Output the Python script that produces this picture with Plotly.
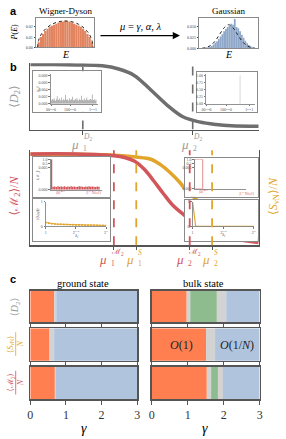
import plotly.graph_objects as go

W, H = 286, 439
SERIF = "Liberation Serif, DejaVu Serif, serif"
SANS = "Liberation Sans, Arial, sans-serif"

# ---------------- colours ----------------
C_RED = "#d2555a"
C_YEL = "#e2a52c"
C_GRAY = "#6e6e6e"
C_FRAME = "#8a8a8a"
PH_COL = {"erg": "#ff7f50", "cross": "#d3d3d3", "mid": "#8fbc8f", "loc": "#b0c4de"}

# ---------------- data ----------------
# panel a : Wigner-Dyson histogram
wd_E = [-24, -22, -20, -18, -16, -14, -12, -10, -8, -6, -4, -2, 0, 2, 4, 6, 8, 10, 12, 14, 16, 18, 20, 22, 24]
wd_P = [0.005, 0.010, 0.013, 0.016, 0.018, 0.020, 0.021, 0.022, 0.023, 0.024, 0.025, 0.025, 0.026,
        0.025, 0.025, 0.024, 0.023, 0.022, 0.021, 0.020, 0.018, 0.016, 0.013, 0.010, 0.005]
wd_curve_E = [-25, -24, -22, -20, -16, -12, -8, -4, 0, 4, 8, 12, 16, 20, 22, 24, 25]
wd_curve_P = [0, 0.0071, 0.0121, 0.0153, 0.0196, 0.0224, 0.0242, 0.0252, 0.0255,
              0.0252, 0.0242, 0.0224, 0.0196, 0.0153, 0.0121, 0.0071, 0]
# panel a : Gaussian histogram
ga_E = [-2.9, -2.7, -2.5, -2.3, -2.1, -1.9, -1.7, -1.5, -1.3, -1.1, -0.9, -0.7, -0.5, -0.3, -0.1,
        0.1, 0.3, 0.5, 0.7, 0.9, 1.1, 1.3, 1.5, 1.7, 1.9, 2.1, 2.3, 2.5, 2.7, 2.9]
ga_P = [0.001, 0.001, 0.002, 0.003, 0.004, 0.006, 0.009, 0.013, 0.017, 0.022, 0.028, 0.033, 0.040, 0.045, 0.050,
        0.052, 0.057, 0.055, 0.068, 0.050, 0.047, 0.040, 0.032, 0.025, 0.018, 0.012, 0.008, 0.005, 0.003, 0.001]
ga_curve_E = [-3, -2.5, -2, -1.5, -1, -0.5, 0, 0.5, 1, 1.5, 2, 2.5, 3]
ga_curve_P = [0.0006, 0.0024, 0.0074, 0.0177, 0.033, 0.048, 0.055, 0.048, 0.033, 0.0177, 0.0074, 0.0024, 0.0006]

# panel b : order parameters vs mu
mu_D2 = [0, 0.1, 0.2, 0.315, 0.387, 0.455, 0.528, 0.6, 0.668, 0.74, 0.813, 0.881, 1.0]
D2 = [1.0, 1.0, 0.995, 0.98, 0.93, 0.83, 0.60, 0.36, 0.18, 0.10, 0.06, 0.04, 0.03]
mu_M2 = [0, 0.2, 0.366, 0.413, 0.455, 0.498, 0.54, 0.583, 0.626, 0.677, 0.74, 0.8, 0.89, 1.0]
M2 = [0.99, 0.99, 0.97, 0.95, 0.91, 0.82, 0.69, 0.545, 0.41, 0.30, 0.15, 0.09, 0.04, 0.0]
mu_S = [0, 0.2, 0.37, 0.464, 0.528, 0.57, 0.613, 0.655, 0.677, 0.74, 0.826, 0.91, 1.0]
S = [0.985, 0.985, 0.975, 0.955, 0.93, 0.87, 0.78, 0.67, 0.60, 0.45, 0.25, 0.10, 0.03]
mu_D2_crit = [0.23, 0.711]
mu_M2_crit = [0.366, 0.698]
mu_S_crit = [0.464, 0.796]

# insets of panel b
ipr_ground = [0.0012, 0.0009, 0.0014, 0.0010, 0.0016, 0.0011, 0.0008, 0.0013, 0.0022, 0.0010,
              0.0012, 0.0015, 0.0009, 0.0011, 0.0018, 0.0010, 0.0013, 0.0009, 0.0012, 0.0025,
              0.0011, 0.0014, 0.0010, 0.0009, 0.0016, 0.0012, 0.0010, 0.0013, 0.0020, 0.0011,
              0.0009, 0.0012, 0.0014, 0.0010, 0.0017, 0.0011, 0.0009, 0.0013, 0.0012, 0.0010,
              0.0023, 0.0011, 0.0012, 0.0009, 0.0015, 0.0010, 0.0012, 0.0018, 0.0011, 0.0010,
              0.0013, 0.0009, 0.0014, 0.0012, 0.0027, 0.0010, 0.0011, 0.0013, 0.0009, 0.0012]
ipr_bulk_idx = [43]
ipr_bulk_val = [1.0]
m2_ground = [1.0, 0.10, 0.11, 0.09, 0.12, 0.10, 0.11, 0.10, 0.12, 0.09, 0.11, 0.10, 0.12, 0.10, 0.11,
             0.09, 0.10, 0.12, 0.11, 0.10, 0.09, 0.11, 0.10, 0.12, 0.10, 0.11, 0.10, 0.09, 0.11, 0.10]
m2_bulk = [1.0]
s_ground = [0.16, 0.13, 0.11, 0.10, 0.09, 0.085, 0.08, 0.075, 0.07, 0.066, 0.062, 0.058, 0.055,
            0.052, 0.05, 0.048, 0.046, 0.044, 0.042, 0.041, 0.04]
s_bulk = [1.0, 0, 0, 0, 0, 0, 0, 0, 0, 0, 0, 0, 0, 0, 0, 0, 0, 0, 0, 0, 0]

# panel c : phase diagrams (edges in gamma, phases between edges)
gs_D2_edges = [0, 0.67, 0.73, 3.0]
gs_S_edges = [0, 0.54, 0.67, 3.0]
gs_M2_edges = [0, 0.69, 0.72, 3.0]
gs_phases = ["erg", "cross", "loc"]
bs_D2_edges = [0, 0.97, 1.07, 1.81, 2.07, 3.0]
bs_D2_phases = ["erg", "cross", "mid", "cross", "loc"]
bs_S_edges = [0, 1.51, 1.76, 3.0]
bs_S_phases = ["erg", "cross", "loc"]
bs_M2_edges = [0, 1.53, 1.65, 1.84, 1.98, 3.0]
bs_M2_phases = ["erg", "cross", "mid", "cross", "loc"]
gamma_ticks = [0, 1, 2, 3]

# ---------------- helpers ----------------
layout = {}
traces = []
ann = []
shapes = []
cnt = [0]


def xd(a, b):
    return [a / W, b / W]


def yd(top, bot):
    return [1 - bot / H, 1 - top / H]


def base_ax(**kw):
    d = dict(showgrid=False, zeroline=False, showticklabels=False, ticks="", showline=False,
             fixedrange=True)
    d.update(kw)
    return d


def add_axes(xpx, ypx, xo, yo):
    cnt[0] += 1
    i = cnt[0]
    s = "" if i == 1 else str(i)
    layout["xaxis" + s] = dict(domain=xd(*xpx), anchor="y" + s, **base_ax(**xo))
    layout["yaxis" + s] = dict(domain=yd(*ypx), anchor="x" + s, **base_ax(**yo))
    traces.append(go.Scatter(x=[None], y=[None], xaxis="x" + s, yaxis="y" + s, showlegend=False))
    return "x" + s, "y" + s


def text(xp, yp, s, size=10, color="black", family=SERIF, angle=0, xanchor="center", yanchor="middle"):
    ann.append(dict(x=xp / W, y=1 - yp / H, xref="paper", yref="paper", text=s, showarrow=False,
                    font=dict(size=size, color=color, family=family), textangle=angle,
                    xanchor=xanchor, yanchor=yanchor))


def mu_label(xp, yp, sub, sup, color):
    text(xp - 2, yp + 2, "<i>μ</i>", size=13, color=color, xanchor="right")
    text(xp - 2, yp + 6, sub, size=7.5, color=color, xanchor="left")
    text(xp - 2, yp - 5, sup, size=7.5, color=color, xanchor="left")


frame = dict(showline=True, mirror=True, linecolor=C_FRAME, linewidth=1)
tf = dict(size=4, color="#555", family=SERIF)

# ---------------- panel b main axes ----------------
xb1, yb1 = add_axes((26, 261), (61, 128),
                    dict(range=[0, 1], showline=True, linecolor="#555", linewidth=1.5, ticks="outside",
                         tickvals=mu_D2_crit, ticklen=4, tickcolor="#555"),
                    dict(range=[-0.02, 1.02], showline=True, linecolor="#555", linewidth=1.5))
for m in mu_D2_crit:
    traces.append(go.Scatter(x=[m, m], y=[-0.02, 1.02], xaxis=xb1, yaxis=yb1, mode="lines",
                             line=dict(color=C_GRAY, width=1.6, dash="dash"), showlegend=False))
traces.append(go.Scatter(x=mu_D2, y=D2, xaxis=xb1, yaxis=yb1, mode="lines",
                         line=dict(color=C_GRAY, width=3.5, shape="spline"), showlegend=False))

xb2, yb2 = add_axes((26, 261), (149, 245),
                    dict(range=[0, 1], showline=True, linecolor="#555", linewidth=1.5, ticks="outside",
                         tickvals=mu_M2_crit + mu_S_crit, ticklen=3, tickcolor="#555"),
                    dict(range=[-0.03, 1.03], showline=True, mirror=True, linecolor="#555", linewidth=1.5))
traces.append(go.Scatter(x=mu_S, y=S, xaxis=xb2, yaxis=yb2, mode="lines",
                         line=dict(color=C_YEL, width=3.5, shape="spline"), showlegend=False))
traces.append(go.Scatter(x=mu_M2, y=M2, xaxis=xb2, yaxis=yb2, mode="lines",
                         line=dict(color=C_RED, width=3.5, shape="spline"), showlegend=False))
for m, c in zip(mu_M2_crit + mu_S_crit, [C_RED, C_RED, C_YEL, C_YEL]):
    shapes.append(dict(type="line", xref=xb2, yref=yb2 + " domain", x0=m, x1=m, y0=0, y1=1,
                       line=dict(color=c, width=1.8, dash="dash"), layer="above"))

# ---------------- inset frames ----------------
for px, py in [((29, 99), (69, 110)), ((198, 259), (70, 110)),
               ((29, 108), (156, 196)), ((29, 108), (198, 241)),
               ((185, 260), (157, 196)), ((185, 260), (199, 241))]:
    add_axes(px, py, dict(range=[0, 1], **frame), dict(range=[0, 1], **frame))

inner_x = dict(showline=True, linecolor="#777", linewidth=0.8, ticks="outside", ticklen=1.5,
               tickcolor="#777", showticklabels=True, tickfont=tf)
inner_y = dict(showline=True, linecolor="#777", linewidth=0.8, ticks="outside", ticklen=1.5,
               tickcolor="#777", showticklabels=True, tickfont=tf)
inner_x_nolab = {k: v for k, v in inner_x.items() if k not in ("showticklabels", "ticks")}

# top-left inset : ground state IPR
xi, yi = add_axes((47, 96), (72, 102),
                  dict(range=[-0.5, 62], tickvals=[0, 25, 55], ticktext=["00⋯0", "100⋯0", "1⋯1"], **inner_x),
                  dict(range=[0, 0.0085], tickvals=[0, 0.002, 0.004, 0.006, 0.008],
                       ticktext=["0.000", "0.002", "0.004", "0.006", "0.008"], **inner_y))
traces.append(go.Bar(x=list(range(len(ipr_ground))), y=ipr_ground, xaxis=xi, yaxis=yi,
                     marker=dict(color="#8c8c8c", line=dict(width=0)), width=0.8, showlegend=False))
text(34, 87, "|<i>c<sub>n</sub></i>|²", size=4, color="#555", angle=-90)

# top-right inset : bulk state
xi, yi = add_axes((207, 257), (72, 102),
                  dict(range=[-0.5, 62], tickvals=[0, 25, 55], ticktext=["00⋯0", "100⋯0", "1⋯1"], **inner_x),
                  dict(range=[0, 1.05], tickvals=[0, 0.25, 0.5, 0.75, 1.0],
                       ticktext=["0.00", "0.25", "0.50", "0.75", "1.00"], **inner_y))
traces.append(go.Bar(x=ipr_bulk_idx, y=ipr_bulk_val, xaxis=xi, yaxis=yi,
                     marker=dict(color="#999", line=dict(width=0)), width=0.5, showlegend=False))

# lower-left upper inset : M2 ground
xi, yi = add_axes((47, 100), (158, 189),
                  dict(range=[-0.5, 31], **inner_x_nolab),
                  dict(range=[0, 1.0], tickvals=[0, 0.72, 0.86, 1.0],
                       ticktext=["0.000", "0.005", "0.5", "1.0"], **inner_y))
traces.append(go.Bar(x=list(range(len(m2_ground))), y=m2_ground, xaxis=xi, yaxis=yi,
                     marker=dict(color=C_RED, line=dict(width=0)), width=0.9, showlegend=False))
text(50, 192, "|0⟩<sup>⊗N</sup>", size=4, color=C_RED, xanchor="left")
text(101, 192, "|1<sup>N</sup> Néel⟩", size=4, color=C_RED, xanchor="right")
text(34, 174, "⟨ℳ<sub>2</sub>⟩", size=4, color="#555", angle=-90)

# lower-left lower inset : S ground
xi, yi = add_axes((42, 104), (201, 226),
                  dict(range=[0, 20], tickvals=[0, 10, 20], ticktext=["1", "2<sup>N/2</sup>", "2<sup>N</sup>"], **inner_x),
                  dict(range=[0, 1.0], tickvals=[0, 1], ticktext=["0", "1"], **inner_y))
traces.append(go.Scatter(x=list(range(len(s_ground))), y=s_ground, xaxis=xi, yaxis=yi, mode="lines+markers",
                         line=dict(color=C_YEL, width=1), marker=dict(size=2, color=C_YEL), showlegend=False))
text(73, 236, "<i>λ<sub>i</sub></i>", size=5, color="#555")
text(33, 213, "|⟨<i>λ<sub>i</sub></i>|<i>ψ</i>⟩|²", size=4, color="#555", angle=-90)

# lower-right upper inset : M2 bulk
xi, yi = add_axes((195, 248), (158, 188),
                  dict(range=[-0.5, 31], **inner_x_nolab),
                  dict(range=[0, 1.0], tickvals=[0, 0.72, 0.86, 1.0],
                       ticktext=["0.000", "0.005", "0.5", "1.0"], **inner_y))
traces.append(go.Bar(x=[2], y=m2_bulk, xaxis=xi, yaxis=yi, width=5,
                     marker=dict(color="rgba(0,0,0,0)", line=dict(width=1, color="#e58a8a")), showlegend=False))
text(198, 191, "|0⟩<sup>⊗N</sup>", size=4, color=C_RED, xanchor="left")
text(258, 193, "|1<sup>N</sup> Néel⟩", size=4, color=C_RED, xanchor="right")

# lower-right lower inset : S bulk
xi, yi = add_axes((193, 256), (201, 226),
                  dict(range=[0, 20], tickvals=[0, 10, 20], ticktext=["1", "2<sup>N/2</sup>", "2<sup>N</sup>"], **inner_x),
                  dict(range=[0, 1.0], tickvals=[0, 1], ticktext=["0", "1"], **inner_y))
traces.append(go.Scatter(x=list(range(len(s_bulk))), y=s_bulk, xaxis=xi, yaxis=yi, mode="lines",
                         line=dict(color=C_YEL, width=1.2), showlegend=False))
text(224, 235, "<i>λ<sub>i</sub></i>", size=5, color="#555")

# ---------------- panel a ----------------
xa, ya = add_axes((32, 92), (15, 45),
                  dict(range=[-26.3, 26.3], **frame),
                  dict(range=[0, 0.0286], tickvals=[0, 0.01, 0.02], ticktext=["0.00", "0.01", "0.02"],
                       ticks="outside", ticklen=1.5, showticklabels=True, tickfont=dict(size=4, family=SERIF), **frame))
traces.append(go.Bar(x=wd_E, y=wd_P, xaxis=xa, yaxis=ya, width=2,
                     marker=dict(color="#e2845f", line=dict(width=0)), showlegend=False))
traces.append(go.Scatter(x=wd_curve_E, y=wd_curve_P, xaxis=xa, yaxis=ya, mode="lines",
                         line=dict(color="#222", width=1, dash="dot", shape="spline"), showlegend=False))
xa, ya = add_axes((200, 260), (15, 46),
                  dict(range=[-3.3, 3.3], **frame),
                  dict(range=[0, 0.071], tickvals=[0, 0.025, 0.05], ticktext=["0.000", "0.025", "0.050"],
                       ticks="outside", ticklen=1.5, showticklabels=True, tickfont=dict(size=4, family=SERIF), **frame))
traces.append(go.Bar(x=ga_E, y=ga_P, xaxis=xa, yaxis=ya, width=0.2,
                     marker=dict(color="#8ea7c9", line=dict(width=0)), showlegend=False))
traces.append(go.Scatter(x=ga_curve_E, y=ga_curve_P, xaxis=xa, yaxis=ya, mode="lines",
                         line=dict(color="#222", width=1, dash="dot", shape="spline"), showlegend=False))

text(62, 8, "Wigner-Dyson", size=9)
text(230, 8, "Gaussian", size=9)
text(62, 52, "<i>E</i>", size=10)
text(230, 52, "<i>E</i>", size=10)
text(10, 30, "<i>P</i>(<i>E</i>)", size=8, angle=-90)
text(139, 24, "<i>μ</i> = <i>γ</i>, <i>α</i>, <i>λ</i>", size=10.5)
ann.append(dict(x=180 / W, y=1 - 33 / H, ax=-81, ay=0, xref="paper", yref="paper",
                axref="pixel", ayref="pixel", text="", showarrow=True, arrowhead=2, arrowsize=1.2,
                arrowwidth=1.2, arrowcolor="black"))

# ---------------- panel c ----------------
rows = [
    ((26, 136), (291, 323), gs_D2_edges, gs_phases, False),
    ((26, 136), (329, 362), gs_S_edges, gs_phases, False),
    ((26, 136), (368, 401), gs_M2_edges, gs_phases, True),
    ((151, 262), (291, 323), bs_D2_edges, bs_D2_phases, False),
    ((151, 262), (329, 362), bs_S_edges, bs_S_phases, False),
    ((151, 262), (368, 401), bs_M2_edges, bs_M2_phases, True),
]
cfr = dict(showline=True, mirror=True, linecolor="#555", linewidth=1.5)
for px, py, edges, phases, labels in rows:
    xc, yc = add_axes(px, py,
                      dict(range=[0, 3], ticks="outside", tickvals=gamma_ticks, ticklen=4, tickcolor="#555",
                           showticklabels=labels, tickfont=dict(size=12, family=SERIF, color="#333"), **cfr),
                      dict(range=[-0.5, 0.5], **cfr))
    for a, b, ph in zip(edges[:-1], edges[1:], phases):
        traces.append(go.Bar(y=[0], x=[b - a], base=[a], orientation="h", width=1, xaxis=xc, yaxis=yc,
                             marker=dict(color=PH_COL[ph], line=dict(width=0)), showlegend=False))
    if px[0] == 151 and py[0] == 329:
        ann.append(dict(x=0.82, y=0, xref=xc, yref=yc, text="<i>O</i>(1)", showarrow=False,
                        font=dict(size=12, family=SERIF, color="#222")))
        ann.append(dict(x=2.36, y=0, xref=xc, yref=yc, text="<i>O</i>(1/<i>N</i>)", showarrow=False,
                        font=dict(size=12, family=SERIF, color="#222")))

text(80, 284, "ground state", size=10.5)
text(204, 284, "bulk state", size=10.5)
text(81, 430, "<i>γ</i>", size=14)
text(206, 430, "<i>γ</i>", size=14)
text(11, 307, "⟨<i>D</i><sub>2</sub>⟩", size=10, color="#999", angle=-90)
text(6, 345, "⟨<i>S</i><sub>vN</sub>⟩", size=8, color=C_YEL, angle=-90)
text(16, 345, "<i>N</i>", size=8, color=C_YEL, angle=-90)
text(6, 384, "⟨ℳ<sub>2</sub>⟩", size=8, color=C_RED, angle=-90)
text(16, 384, "<i>N</i>", size=8, color=C_RED, angle=-90)
for yc, col in [(345, C_YEL), (384, C_RED)]:
    shapes.append(dict(type="line", xref="paper", yref="paper", x0=11 / W, x1=11 / W,
                       y0=1 - (yc - 12) / H, y1=1 - (yc + 12) / H, line=dict(color=col, width=0.8)))

# ---------------- panel b labels ----------------
text(10, 95, "⟨<i>D</i><sub>2</sub>⟩", size=12, color="#999", angle=-90)
text(10, 195, "⟨ℳ<sub>2</sub>⟩/<i>N</i>", size=12, color=C_RED, angle=-90)
text(276, 195, "⟨<i>S</i><sub>vN</sub>⟩/<i>N</i>", size=12, color=C_YEL, angle=-90)
mu_label(80, 141, "1", "<i>D</i><sub>2</sub>", "#999")
mu_label(193, 141, "2", "<i>D</i><sub>2</sub>", "#999")
mu_label(109, 257, "1", "ℳ<sub>2</sub>", C_RED)
mu_label(137, 257, "1", "<i>S</i>", C_YEL)
mu_label(188, 257, "2", "ℳ<sub>2</sub>", C_RED)
mu_label(215, 257, "2", "<i>S</i>", C_YEL)

# panel letters
text(3, 8, "<b>a</b>", size=11, family=SANS, xanchor="left")
text(3, 65, "<b>b</b>", size=11, family=SANS, xanchor="left")
text(3, 279, "<b>c</b>", size=11, family=SANS, xanchor="left")

fig = go.Figure(data=traces)
fig.update_layout(width=W, height=H, margin=dict(l=0, r=0, t=0, b=0), plot_bgcolor="white",
                  paper_bgcolor="white", showlegend=False, barmode="overlay",
                  annotations=ann, shapes=shapes, font=dict(family=SERIF))
fig.update_layout(**layout)
fig.write_html("out.html", config={"displayModeBar": False, "staticPlot": True},
               post_script="document.body.style.margin='0';document.body.style.overflow='hidden';")
